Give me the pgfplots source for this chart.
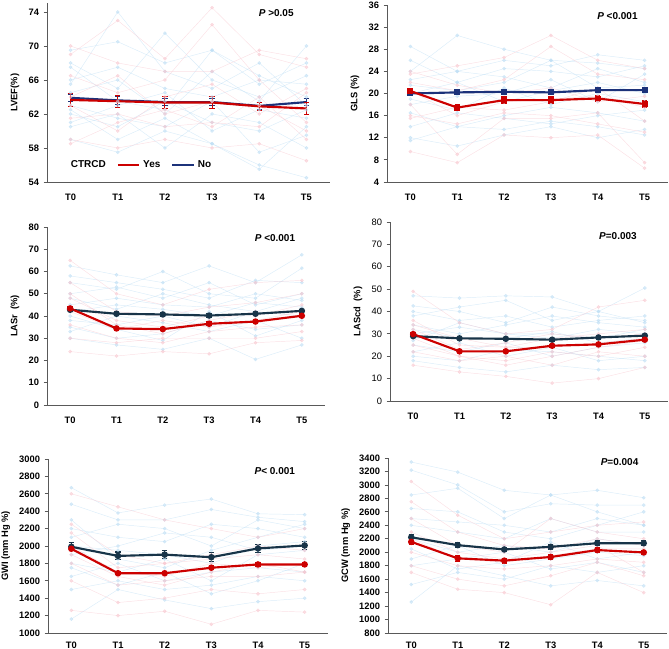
\documentclass[border=0pt]{standalone}
\usepackage{fontspec}
\setmainfont{Liberation Sans}
\usepackage{pgfplots}
\usepackage{pgfplotstable}
\pgfplotsset{compat=1.18}

\definecolor{ctred}{RGB}{204,0,0}
\definecolor{ctnavy}{RGB}{28,50,122}
\definecolor{ctslate}{RGB}{24,52,72}
\definecolor{bgb}{RGB}{190,222,244}
\definecolor{bgr}{RGB}{248,200,208}

% individual patients: columns b = no CTRCD, r = CTRCD
\pgfplotstableread{
t b1 b2 b3 b4 b5 b6 b7 b8 b9 b10 b11 b12 r1 r2 r3 r4 r5 r6 r7 r8
0 69.5 66.0 62.0 59.0 64.5 61.0 68.0 63.0 65.5 60.5 67.5 62.5 69.0 59.0 66.5 61.5 64.0 70.0 58.5 63.0
1 70.5 67.5 60.5 57.5 66.0 63.0 65.0 61.5 74.0 62.0 63.5 59.0 73.0 58.0 64.5 62.0 66.5 68.0 61.0 60.0
2 68.0 65.0 63.5 60.0 62.0 64.5 71.5 60.5 67.0 58.0 62.5 61.5 68.5 59.0 66.0 60.5 62.0 67.0 62.5 64.0
3 69.5 64.0 61.0 58.5 67.0 60.0 66.0 63.5 65.0 62.0 69.5 58.5 74.5 58.0 72.5 61.0 63.5 67.0 60.5 65.5
4 66.5 66.0 60.0 56.0 63.5 62.5 64.0 57.5 68.0 61.0 65.5 55.5 69.0 58.5 66.0 60.5 63.0 69.5 64.0 62.0
5 64.0 65.5 62.5 54.5 70.0 61.5 66.5 59.5 63.0 58.0 68.0 60.5 67.5 56.5 61.0 64.5 60.0 68.5 59.0 65.0
}\lvef
\pgfplotstableread{
t b1 b2 b3 b4 b5 b6 b7 b8 b9 b10 b11 b12 r1 r2 r3 r4 r5 r6 r7 r8
0 28.5 24.0 12.0 20.0 16.5 22.5 18.0 14.0 26.0 19.0 11.5 21.5 9.5 23.5 16.0 20.5 18.0 22.0 15.5 24.0
1 24.0 30.5 10.5 22.0 14.0 24.0 19.5 16.5 22.0 17.0 14.0 20.5 7.5 25.0 14.5 16.0 9.0 20.5 17.5 21.5
2 26.0 28.0 12.5 18.5 16.0 23.0 20.0 15.5 24.5 21.0 13.5 22.0 12.5 26.5 16.5 18.5 15.5 22.5 17.0 20.0
3 25.0 26.0 14.0 20.5 17.5 21.0 22.5 14.5 24.0 18.0 15.0 26.0 12.0 30.5 16.0 19.0 15.5 28.5 18.5 21.0
4 27.0 25.5 12.0 22.0 16.5 24.5 18.5 16.0 23.0 20.0 14.0 21.0 12.5 26.0 14.5 19.5 16.5 23.5 21.0 18.5
5 26.0 24.5 13.5 20.0 15.0 22.0 23.5 17.0 25.0 18.5 12.5 21.5 6.5 24.5 13.0 17.5 7.5 22.5 15.0 19.5
}\gls
\pgfplotstableread{
t b1 b2 b3 b4 b5 b6 b7 b8 b9 b10 b11 b12 r1 r2 r3 r4 r5 r6 r7 r8
0 62.5 55 30 45 38 50 35 42 58 33 48 40 65 24 48 36 55 30 42 50
1 58.5 52 27 48 36 53 30 45 55 40 43 34 50 22 38 30 42 28 34 36
2 55 60 25 45 40 48 32 43 52 37 50 29 45 24 35 28 40 30 38 32
3 62.5 50 30 44 35 55 38 40 48 33 45 42 52 23 40 33 44 30 35 38
4 55 48 20.5 50 42 45 34 46 56 38 42 31 55 28 40 35 46 30 38 42
5 67.5 61.5 27 47 40 50 36 44 55 30 48 38 56 29 45 36 50 33 42 40
}\lasr
\pgfplotstableread{
t b1 b2 b3 b4 b5 b6 b7 b8 b9 b10 b11 b12 r1 r2 r3 r4 r5 r6 r7 r8
0 47 42.5 18 30 25 38 22 34 27 20 40 32 49 16 36 28 32 22 34 25
1 46 40 15 33 22 42 26 30 35 18 36 28 35 13 25 20 23 18 28 20
2 47 35 13 30 26 45 20 34 30 23 38 28 30 11 24 18 26 20 24 16
3 46.5 42 16 28 20 36 24 38 30 22 33 31 32 8 28 22 30 16 24 20
4 40 38 14 32 24 40 18 35 28 20 36 26 42 10 30 20 28 22 26 24
5 50.5 36 15 30 26 35 20 33 32 18 38 28 45 15 32 24 30 20 28 27
}\lascd
\pgfplotstableread{
t b1 b2 b3 b4 b5 b6 b7 b8 b9 b10 b11 b12 r1 r2 r3 r4 r5 r6 r7 r8
0 2670 2480 1160 2000 1800 2200 1650 2100 1900 1500 2300 1750 2600 1260 2250 1800 2000 1600 2150 1900
1 2380 2300 1500 1950 1700 2100 1800 2250 2000 1600 1850 1550 2450 1200 1900 1550 1700 1350 1750 1650
2 2470 2300 1380 1900 1850 2050 1600 2200 2150 1500 1750 1700 2300 1250 1800 1600 1650 1400 1800 1550
3 2540 2420 1280 1800 1600 2250 1700 2000 2100 1550 1950 1450 2200 1100 1900 1650 1800 1500 1850 1700
4 2370 2330 1360 2000 1900 2200 1750 2300 1950 1650 2100 1600 2100 1260 2000 1650 1750 1450 1900 1800
5 2360 2280 1400 2050 1950 2100 1700 2200 2000 1600 2250 1800 2200 1240 1950 1700 1800 1500 1850 1700
}\gwi
\pgfplotstableread{
t b1 b2 b3 b4 b5 b6 b7 b8 b9 b10 b11 b12 r1 r2 r3 r4 r5 r6 r7 r8
0 3340 3220 1260 2500 2200 2850 1900 2400 2050 1520 2650 1800 3050 1700 2750 2000 2300 1800 2200 2500
1 3190 3000 1800 2450 2000 2950 2100 2300 1750 1700 2600 1900 2550 1450 2300 1800 2000 1600 1900 2100
2 2920 2600 1650 2400 2100 2500 1800 2200 1850 1600 2300 2000 2200 1400 2100 1750 1900 1500 1850 2000
3 2850 2720 1500 2300 2000 2850 1900 2500 2150 1800 2200 1750 2300 1220 2050 1800 2000 1650 1950 2500
4 2920 2700 1580 2500 2200 2600 2000 2300 1900 1700 2400 1850 2400 1700 2200 1900 2100 1850 2050 2300
5 2810 2700 1500 2400 2100 2400 1950 2300 2000 1800 2600 1700 2450 1400 2100 1850 1700 1650 2050 2200
}\gcw

\newcommand{\bglines}[1]{%
  \pgfplotsinvokeforeach{1,...,12}{\addplot[bgline, color=bgb] table[x=t,y=b##1]{#1};}%
  \pgfplotsinvokeforeach{1,...,8}{\addplot[bgline, color=bgr] table[x=t,y=r##1]{#1};}%
}

\tikzset{pval/.style={font=\fontsize{7.5}{9}\selectfont\bfseries}}
\pgfplotsset{
  panel/.style={
    scale only axis,
    anchor=south west,
    xmin=-0.5, xmax=5.5,
    xtick={0,...,5},
    xticklabels={T0,T1,T2,T3,T4,T5},
    axis lines*=left,
    axis line style={black!65, line width=0.6pt},
    x tick style={draw=none},
    y tick style={black!65, line width=0.6pt},
    tick align=outside,
    major tick length=2.5pt,
    /pgf/number format/assume math mode=true,
    /pgf/number format/1000 sep={},
    tick label style={font=\fontsize{7}{8}\selectfont\bfseries},
    xticklabel style={yshift=-3pt},
    ylabel style={font=\fontsize{7}{8}\selectfont\bfseries},
    clip=false,
  },
  lowpanel/.style={xticklabel style={yshift=2.5pt}},
  bgline/.style={line width=0.35pt, opacity=0.55, mark=*, mark size=1.2pt, forget plot},
  meanline/.style={line width=1.6pt, mark=*, mark size=1.6pt,
    error bars/y dir=both, error bars/y explicit,
    error bars/error bar style={line width=0.8pt},
    error bars/error mark options={rotate=90, mark size=2pt, line width=0.8pt}},
}

\begin{document}
\begin{tikzpicture}
\useasboundingbox (0,0) rectangle (501.75pt,486.75pt);

% LVEF
\begin{axis}[panel, at={(35.25pt,350.25pt)},
  width=212.25pt, height=133.9pt,
  ymin=54, ymax=75, ytick={54,58,...,74},
  ylabel={LVEF(\%)},
  legend style={draw=none, fill=none, at={(0.06,0.095)}, anchor=west,
    font=\fontsize{7.5}{9}\selectfont\bfseries, legend columns=3,
    /tikz/every even column/.append style={column sep=6pt}},
  legend image code/.code={\draw[#1] (0pt,0pt) -- (16pt,0pt);}]
\bglines{\lvef}
\addlegendimage{empty legend}
\addlegendimage{ctred, line width=2pt}
\addlegendimage{ctnavy, line width=2pt}
\addplot[meanline, ctnavy, mark=none, forget plot] coordinates {
  (0,63.9) +- (0,0.45) (1,63.6) +- (0,0.45) (2,63.4) +- (0,0.45)
  (3,63.4) +- (0,0.45) (4,62.95) +- (0,0.4) (5,63.4) +- (0,0.4)};
\addplot[meanline, ctred, mark=none, forget plot] coordinates {
  (0,63.65) +- (0,0.75) (1,63.5) +- (0,0.7) (2,63.35) +- (0,0.7)
  (3,63.35) +- (0,0.7) (4,62.9) +- (0,0.5) (5,62.65) +- (0,0.7)};
\legend{CTRCD, Yes, No}
\node[pval] at (rel axis cs:0.81,0.945) {\textit{P} \textgreater0.05};
\end{axis}

% GLS
\begin{axis}[panel, at={(290.25pt,350.25pt)},
  width=210.75pt, height=132.75pt,
  ymin=4, ymax=36, ytick={4,8,...,36},
  ylabel={GLS (\%)}]
\bglines{\gls}
\addplot[meanline, ctnavy, mark=square*, mark size=1.4pt] coordinates {
  (0,20.0) +- (0,0.35) (1,20.2) +- (0,0.35) (2,20.3) +- (0,0.35)
  (3,20.2) +- (0,0.35) (4,20.6) +- (0,0.35) (5,20.6) +- (0,0.35)};
\addplot[meanline, ctred, mark=square*, mark size=1.4pt] coordinates {
  (0,20.45) +- (0,0.4) (1,17.45) +- (0,0.6) (2,18.8) +- (0,0.6)
  (3,18.8) +- (0,0.6) (4,19.1) +- (0,0.6) (5,18.1) +- (0,0.6)};
\node[pval] at (rel axis cs:0.82,0.94) {\textit{P} \textless0.001};
\end{axis}

% LASr
\begin{axis}[panel, at={(35.25pt,183pt)},
  width=208.5pt, height=133.5pt,
  ymin=0, ymax=80, ytick={0,10,...,80},
  ylabel={LASr\ \ (\%)}]
\bglines{\lasr}
\addplot[meanline, ctslate] coordinates {
  (0,42.8) +- (0,0.8) (1,41.0) +- (0,0.8) (2,40.7) +- (0,0.8)
  (3,40.2) +- (0,0.8) (4,41.0) +- (0,0.8) (5,42.3) +- (0,0.8)};
\addplot[meanline, ctred] coordinates {
  (0,43.4) +- (0,0.8) (1,34.4) +- (0,0.8) (2,34.1) +- (0,0.8)
  (3,36.5) +- (0,0.8) (4,37.5) +- (0,0.8) (5,40.1) +- (0,0.8)};
\node[pval] at (rel axis cs:0.82,0.94) {\textit{P} \textless0.001};
\end{axis}

% LAScd
\begin{axis}[panel, at={(292.5pt,186pt)},
  width=208.5pt, height=134.25pt,
  ymin=0, ymax=80, ytick={0,10,...,80},
  yticklabel style={font=\fontsize{7}{8}\selectfont\mdseries},
  ylabel={LAScd\ \ (\%)}]
\bglines{\lascd}
\addplot[meanline, ctslate] coordinates {
  (0,29.0) +- (0,0.8) (1,28.0) +- (0,0.7) (2,27.8) +- (0,0.7)
  (3,27.4) +- (0,0.7) (4,28.4) +- (0,0.7) (5,29.2) +- (0,0.7)};
\addplot[meanline, ctred] coordinates {
  (0,29.9) +- (0,0.7) (1,22.2) +- (0,0.7) (2,22.2) +- (0,0.7)
  (3,24.7) +- (0,0.7) (4,25.3) +- (0,0.7) (5,27.4) +- (0,0.7)};
\node[pval] at (rel axis cs:0.82,0.92) {\textit{P}=0.003};
\end{axis}

% GWI
\begin{axis}[panel, lowpanel, at={(36pt,12pt)},
  width=210pt, height=130.5pt,
  ymin=1000, ymax=3000, ytick={1000,1200,...,3000},
  ylabel={GWI (mm Hg \%)}]
\bglines{\gwi}
\addplot[meanline, ctslate] coordinates {
  (0,1991) +- (0,45) (1,1886) +- (0,45) (2,1901) +- (0,45)
  (3,1871) +- (0,50) (4,1972) +- (0,45) (5,2006) +- (0,45)};
\addplot[meanline, ctred] coordinates {
  (0,1968) +- (0,25) (1,1687) +- (0,20) (2,1687) +- (0,20)
  (3,1750) +- (0,20) (4,1788) +- (0,20) (5,1788) +- (0,20)};
\node[pval] at (rel axis cs:0.81,0.93) {\textit{P}\textless\ 0.001};
\end{axis}

% GCW
\begin{axis}[panel, lowpanel, at={(291pt,12pt)},
  width=209.25pt, height=131.25pt,
  ymin=800, ymax=3400, ytick={800,1000,...,3400},
  ylabel={GCW (mm Hg \%)}]
\bglines{\gcw}
\addplot[meanline, ctslate] coordinates {
  (0,2222) +- (0,45) (1,2105) +- (0,40) (2,2041) +- (0,35)
  (3,2080) +- (0,40) (4,2134) +- (0,40) (5,2134) +- (0,40)};
\addplot[meanline, ctred] coordinates {
  (0,2154) +- (0,45) (1,1909) +- (0,40) (2,1875) +- (0,35)
  (3,1929) +- (0,35) (4,2032) +- (0,40) (5,1997) +- (0,30)};
\node[pval] at (rel axis cs:0.83,0.975) {\textit{P}=0.004};
\end{axis}
\end{tikzpicture}
\end{document}
